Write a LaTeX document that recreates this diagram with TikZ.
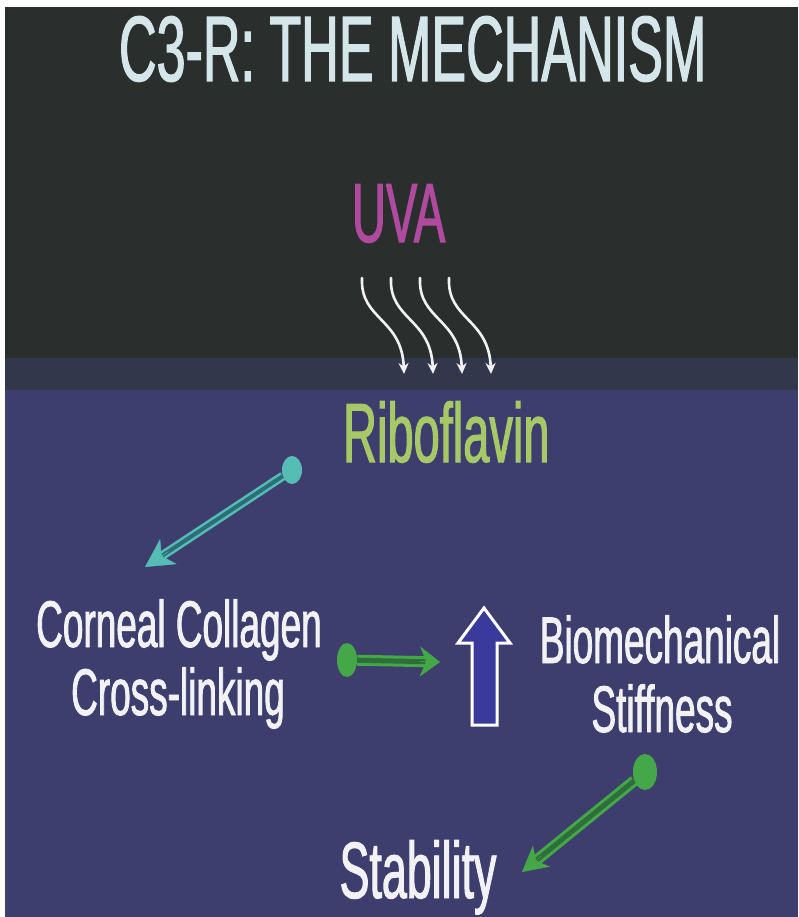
\documentclass[tikz,border=0pt]{standalone}
\usepackage{fontspec}
\newfontfamily\nar[FakeStretch=0.56,FakeBold=1.2]{Liberation Sans}
\usetikzlibrary{shapes.geometric,arrows.meta,calc}
\definecolor{topbg}{HTML}{2A2F2D}
\definecolor{midbg}{HTML}{33374C}
\definecolor{lowbg}{HTML}{3E3E6E}
\definecolor{titlec}{HTML}{D4E6EA}
\definecolor{uvac}{HTML}{B04A9E}
\definecolor{riboc}{HTML}{A6C866}
\definecolor{cyanc}{HTML}{56BDB5}
\definecolor{cyanin}{HTML}{2C6E78}
\definecolor{greenc}{HTML}{45A848}
\definecolor{greenin}{HTML}{2E6E3A}
\definecolor{upfill}{HTML}{3A3A9C}
\definecolor{textc}{HTML}{F2F2F4}
\begin{document}
\begin{tikzpicture}[x=1pt,y=-1pt,
  txt/.style={inner sep=0pt, outer sep=0pt},
  mid/.style={txt, text=textc, font=\nar\fontsize{66}{66}\selectfont},
  dot/.style={ellipse, inner sep=0pt, draw=none},
  wave/.style={draw=white!90!gray, line width=2.6pt, line cap=round, -{Stealth[length=11pt,width=10pt]}},
  shaftc/.style={draw=cyanc, double=cyanin, line width=2.5pt, double distance=4pt},
  shaftg/.style={draw=greenc, double=greenin, line width=3pt, double distance=5pt}
]
\useasboundingbox (0,0) rectangle (798,917);
\fill[white] (0,0) rectangle (798,917);
\fill[topbg] (5,7) rectangle (798,358);
\fill[midbg] (5,358) rectangle (798,390);
\fill[lowbg] (5,390) rectangle (798,917);

% texts
\node[txt, anchor=base west, text=titlec, font=\nar\fontsize{93}{93}\selectfont] (title) at (119,81) {C3-R: THE MECHANISM};
\node[txt, anchor=base west, text=uvac, font=\nar\fontsize{84}{84}\selectfont] (uva) at (352,242) {UVA};
\node[txt, anchor=base west, text=riboc, font=\nar\fontsize{84}{84}\selectfont] (ribo) at (343,462) {Riboflavin};
\node[mid, anchor=base] (ccl1) at (179,647) {Corneal Collagen};
\node[mid, anchor=base] (ccl2) at (178,715) {Cross-linking};
\node[mid, anchor=base] (bio1) at (660,663) {Biomechanical};
\node[mid, anchor=base] (bio2) at (662,732) {Stiffness};
\node[txt, anchor=base, text=textc, font=\nar\fontsize{80}{80}\selectfont] (stab) at (418,898) {Stability};

% UVA wavy arrows
\foreach \i in {0,...,3}{
  \draw[wave] ({362+29*\i},278) .. controls ({360+29*\i},320) and ({402+29*\i},318) .. ({404+29*\i},374);
}

% cyan arrow: riboflavin -> cross-linking
\node[dot, fill=cyanc, minimum width=20pt, minimum height=28pt] (rdot) at (292,470) {};
\coordinate (rtip) at (145,567);
\draw[shaftc] (rdot) -- ($(rtip)!20pt!(rdot)$);
\path[draw=cyanc, line width=0.5pt, -{Stealth[length=28pt,width=30pt,inset=8pt,fill=cyanc]}] ($(rtip)!28pt!(rdot)$) -- (rtip);

% green horizontal arrow
\node[dot, fill=greenc, minimum width=20pt, minimum height=34pt] (hdot) at (347,660) {};
\coordinate (htip) at (440,662);
\draw[shaftg] (hdot) -- ($(htip)!14pt!(hdot)$);
\path[draw=greenc, line width=0.5pt, -{Stealth[length=20pt,width=30pt,inset=6pt,fill=greenc]}] ($(htip)!20pt!(hdot)$) -- (htip);

% hollow up arrow
\draw[draw=white, line width=3pt, fill=upfill, line join=miter]
  (484,608) -- (510,643) -- (497,643) -- (497,725) -- (472,725) -- (472,643) -- (458,643) -- cycle;

% green diagonal arrow: stiffness -> stability
\node[dot, fill=greenc, minimum width=24pt, minimum height=36pt] (sdot) at (645,772) {};
\coordinate (stip) at (522,872);
\draw[shaftg] (sdot) -- ($(stip)!18pt!(sdot)$);
\path[draw=greenc, line width=0.5pt, -{Stealth[length=25pt,width=27pt,inset=7pt,fill=greenc]}] ($(stip)!25pt!(sdot)$) -- (stip);
\end{tikzpicture}
\end{document}
